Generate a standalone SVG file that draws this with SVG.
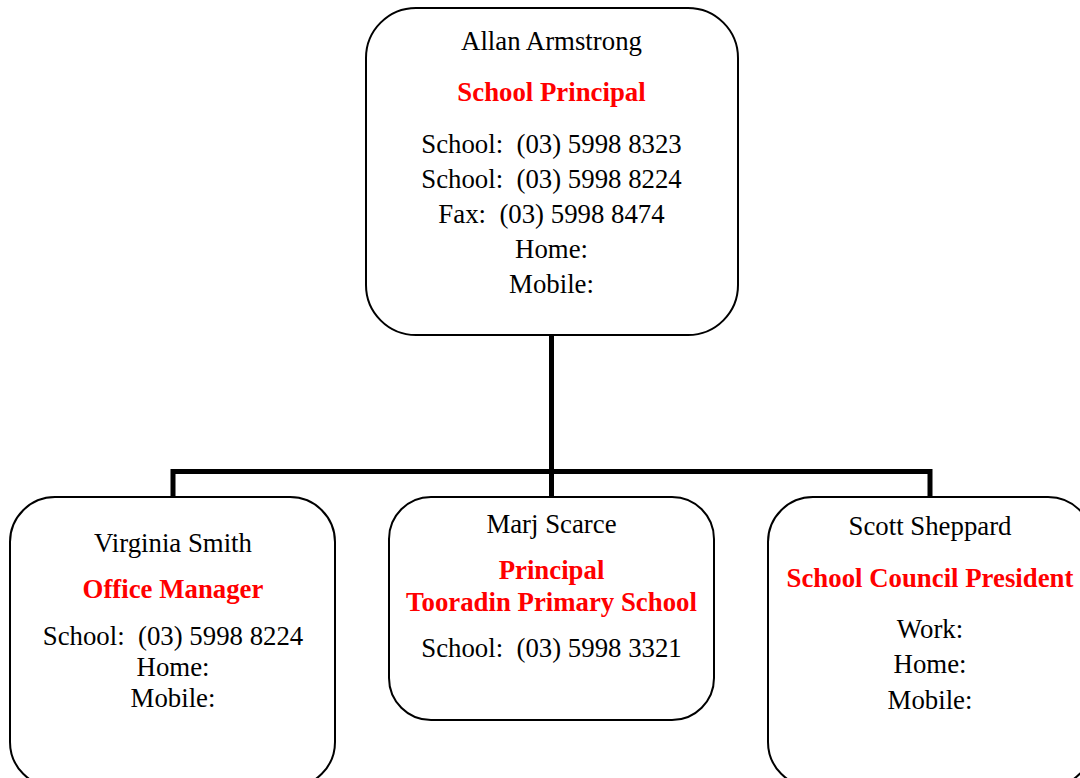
<svg xmlns="http://www.w3.org/2000/svg" width="1080" height="778" viewBox="0 0 1080 778">
<style>
.box{fill:#fff;stroke:#000;stroke-width:2}
.t{font-family:"Liberation Serif","Times New Roman",serif;font-size:26.8px;fill:#000;text-anchor:middle;white-space:pre}
.r{font-family:"Liberation Serif","Times New Roman",serif;font-size:26.8px;font-weight:bold;fill:#ff0000;text-anchor:middle;white-space:pre}
.c{fill:none;stroke:#000;stroke-width:5;stroke-linejoin:miter}
</style>
<rect width="1080" height="778" fill="#fff"/>
<g id="connectors">
<path class="c" d="M551.5 335 V471.5 M173 497 V471.5 H930 V497 M551.5 471.5 V497"/>
</g>
<g id="principal">
<rect class="box" x="366" y="8" width="372" height="327" rx="50" ry="50"/>
<text class="t" x="551.5" y="50">Allan Armstrong</text>
<text class="r" x="551.5" y="101">School Principal</text>
<text class="t" x="551.5" y="153" xml:space="preserve">School:  (03) 5998 8323</text>
<text class="t" x="551.5" y="188" xml:space="preserve">School:  (03) 5998 8224</text>
<text class="t" x="551.5" y="223" xml:space="preserve">Fax:  (03) 5998 8474</text>
<text class="t" x="551.5" y="258">Home:</text>
<text class="t" x="551.5" y="293">Mobile:</text>
</g>
<g id="office-manager">
<rect class="box" x="10" y="497" width="325" height="290" rx="45" ry="45"/>
<text class="t" x="173" y="552">Virginia Smith</text>
<text class="r" x="173" y="598">Office Manager</text>
<text class="t" x="173" y="645" xml:space="preserve">School:  (03) 5998 8224</text>
<text class="t" x="173" y="676">Home:</text>
<text class="t" x="173" y="707">Mobile:</text>
</g>
<g id="tooradin-principal">
<rect class="box" x="389" y="497" width="325" height="223" rx="42" ry="42"/>
<text class="t" x="551.5" y="533">Marj Scarce</text>
<text class="r" x="551.5" y="579">Principal</text>
<text class="r" x="551.5" y="611">Tooradin Primary School</text>
<text class="t" x="551.5" y="657" xml:space="preserve">School:  (03) 5998 3321</text>
</g>
<g id="council-president">
<rect class="box" x="768" y="497" width="325" height="290" rx="45" ry="45"/>
<text class="t" x="930" y="535">Scott Sheppard</text>
<text class="r" x="930" y="587">School Council President</text>
<text class="t" x="930" y="638">Work:</text>
<text class="t" x="930" y="673">Home:</text>
<text class="t" x="930" y="709">Mobile:</text>
</g>
</svg>
